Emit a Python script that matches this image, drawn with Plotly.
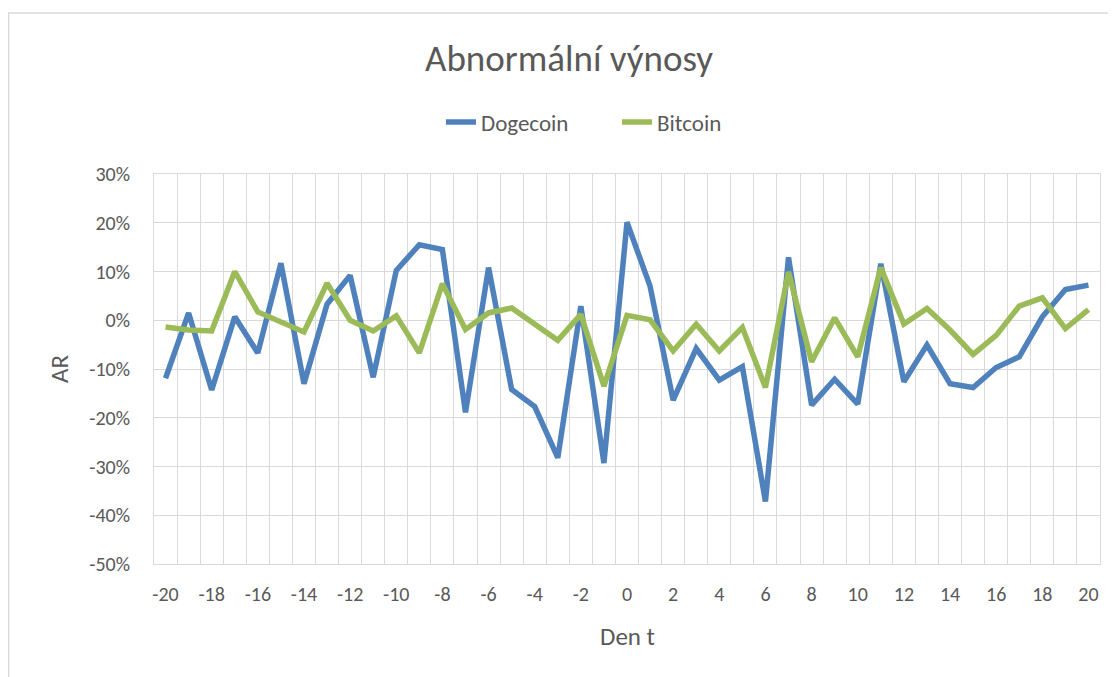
import plotly.graph_objects as go

days = list(range(-20, 21))
dogecoin = [-0.119, 0.015, -0.143, 0.007, -0.067, 0.117, -0.130, 0.033, 0.092, -0.117,
            0.102, 0.155, 0.145, -0.189, 0.108, -0.142, -0.177, -0.282, 0.029, -0.293,
            0.201, 0.070, -0.164, -0.058, -0.123, -0.095, -0.372, 0.129, -0.174, -0.121,
            -0.172, 0.116, -0.126, -0.051, -0.130, -0.138, -0.097, -0.075, 0.007, 0.063,
            0.072]
bitcoin = [-0.014, -0.020, -0.022, 0.100, 0.017, -0.003, -0.024, 0.076, 0.000, -0.022,
           0.009, -0.067, 0.075, -0.019, 0.015, 0.025, -0.009, -0.041, 0.012, -0.135,
           0.010, 0.001, -0.063, -0.008, -0.063, -0.015, -0.138, 0.099, -0.085, 0.005,
           -0.075, 0.108, -0.008, 0.024, -0.020, -0.070, -0.031, 0.029, 0.046, -0.017,
           0.022]
x_ticks = list(range(-20, 21, 2))
y_ticks = [0.3, 0.2, 0.1, 0.0, -0.1, -0.2, -0.3, -0.4, -0.5]
y_labels = ["30%", "20%", "10%", "0%", "-10%", "-20%", "-30%", "-40%", "-50%"]

FONT = "Calibri, Carlito, Lato, sans-serif"
TXT = "#595959"
GRID = "#d9d9d9"

# figure is placed at (8, 8) in the page by the default body margin
W, H = 1108, 669
L, R, T, B = 146, 16, 166, 113
PW, PH = W - L - R, H - T - B

fig = go.Figure()
fig.add_trace(go.Scatter(x=days, y=dogecoin, mode="lines", name="Dogecoin",
                         line=dict(color="#4F81BD", width=5.5)))
fig.add_trace(go.Scatter(x=days, y=bitcoin, mode="lines", name="Bitcoin",
                         line=dict(color="#9BBB59", width=5.5)))

fig.update_layout(
    width=W, height=H,
    margin=dict(l=L, r=R, t=T, b=B),
    paper_bgcolor="white", plot_bgcolor="white",
    font=dict(family=FONT, color=TXT, size=20),
    title=dict(text="Abnormální výnosy", x=561 / W, xref="container", xanchor="center",
               y=1 - 50 / H, yref="container", yanchor="middle",
               font=dict(size=37, color=TXT, family=FONT)),
    legend=dict(orientation="h", x=(433 - L) / PW, xanchor="left",
                y=(H - B - 114) / PH, yanchor="middle",
                font=dict(size=23, color=TXT), bgcolor="rgba(0,0,0,0)",
                entrywidth=131, entrywidthmode="pixels", tracegroupgap=0),
    showlegend=True,
    xaxis=dict(range=[-20.5, 20.5], tickmode="array", tickvals=x_ticks,
               ticktext=[str(v) for v in x_ticks], showgrid=False, zeroline=False,
               ticks="", ticklabelstandoff=12, tickfont=dict(size=20, color=TXT),
               showline=True, mirror=True, linecolor=GRID, linewidth=1,
               minor=dict(tick0=-20.5, dtick=1, showgrid=True, gridcolor=GRID, gridwidth=1)),
    yaxis=dict(range=[-0.5, 0.3], tickmode="array", tickvals=y_ticks, ticktext=y_labels,
               showgrid=True, gridcolor=GRID, gridwidth=1, zeroline=False,
               ticks="", ticklabelstandoff=19, tickfont=dict(size=20, color=TXT),
               showline=True, mirror=True, linecolor=GRID, linewidth=1),
    annotations=[
        dict(text="AR", x=(51 - L) / PW, y=0.5, xref="paper", yref="paper",
             showarrow=False, textangle=-90, font=dict(size=25, color=TXT),
             xanchor="center", yanchor="middle"),
        dict(text="Den t", x=(619 - L) / PW, y=(H - B - 628) / PH, xref="paper", yref="paper",
             showarrow=False, font=dict(size=25, color=TXT),
             xanchor="center", yanchor="middle"),
    ],
    shapes=[
        dict(type="rect", xref="paper", yref="paper",
             x0=(0.5 - L) / PW, x1=1.2, y0=-0.5, y1=(H - B - 5) / PH,
             line=dict(color=GRID, width=1.5), fillcolor="rgba(0,0,0,0)", layer="below"),
    ],
)

fig.write_html("out.html")
